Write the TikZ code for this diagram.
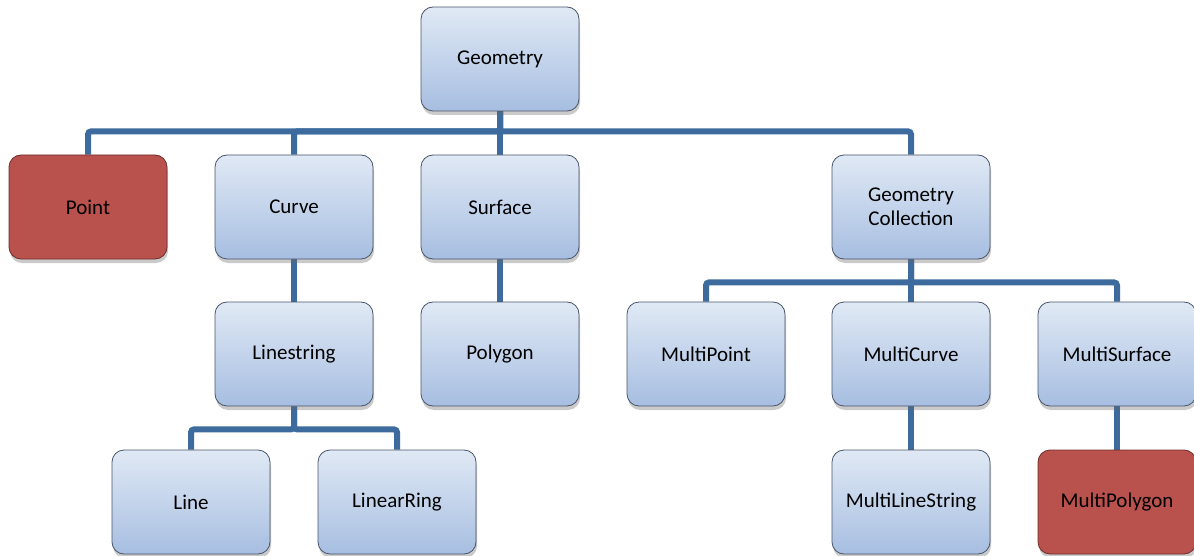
\documentclass[tikz,border=0pt]{standalone}
\usepackage{fontspec}
\setmainfont{Carlito}
\usetikzlibrary{shadows,backgrounds}
\definecolor{boxtop}{HTML}{E0E9F5}
\definecolor{boxbot}{HTML}{A7BEE1}
\definecolor{boxline}{HTML}{4A5468}
\definecolor{redfill}{HTML}{B9514D}
\definecolor{redline}{HTML}{6E2F2D}
\definecolor{link}{HTML}{3D6B9E}
\tikzset{
  cls/.style={rectangle, rounded corners=12pt, minimum width=158pt, minimum height=104pt,
    draw=boxline, line width=0.8pt, top color=boxtop, bottom color=boxbot,
    align=center, font=\fontsize{21}{24}\selectfont,
    drop shadow={shadow xshift=1pt, shadow yshift=-4pt, opacity=0.35, fill=black!60}},
  leaf/.style={cls, top color=redfill, bottom color=redfill, draw=redline},
  link/.style={draw=link, line width=6pt, rounded corners=3pt}
}
\begin{document}
\begin{tikzpicture}[x=1pt,y=-1pt]
\useasboundingbox (0,0) rectangle (1194,556);
% classes
\node[cls]  (geo)  at (500,59)  {Geometry};
\node[leaf] (pt)   at (88,207)  {Point};
\node[cls]  (crv)  at (294,207) {Curve};
\node[cls]  (srf)  at (500,207) {Surface};
\node[cls]  (gc)   at (911,207) {Geometry\\Collection};
\node[cls]  (ls)   at (294,354) {Linestring};
\node[cls]  (pg)   at (500,354) {Polygon};
\node[cls]  (mpt)  at (706,354) {MultiPoint};
\node[cls]  (mcv)  at (911,354) {MultiCurve};
\node[cls]  (msf)  at (1117,354) {MultiSurface};
\node[cls]  (ln)   at (191,502) {Line};
\node[cls]  (lr)   at (397,502) {LinearRing};
\node[cls]  (mls)  at (911,502) {MultiLineString};
\node[leaf] (mpg)  at (1117,502) {MultiPolygon};
% hierarchy links
\begin{scope}[on background layer]
\draw[link] (geo.south) -- ++(0,20) -| (pt.north);
\draw[link] (geo.south) -- ++(0,20) -| (crv.north);
\draw[link] (geo.south) -- (srf.north);
\draw[link] (geo.south) -- ++(0,20) -| (gc.north);
\draw[link] (crv.south) -- (ls.north);
\draw[link] (srf.south) -- (pg.north);
\draw[link] (gc.south) -- ++(0,23) -| (mpt.north);
\draw[link] (gc.south) -- (mcv.north);
\draw[link] (gc.south) -- ++(0,23) -| (msf.north);
\draw[link] (ls.south) -- ++(0,23) -| (ln.north);
\draw[link] (ls.south) -- ++(0,23) -| (lr.north);
\draw[link] (mcv.south) -- (mls.north);
\draw[link] (msf.south) -- (mpg.north);
\end{scope}
\end{tikzpicture}
\end{document}
